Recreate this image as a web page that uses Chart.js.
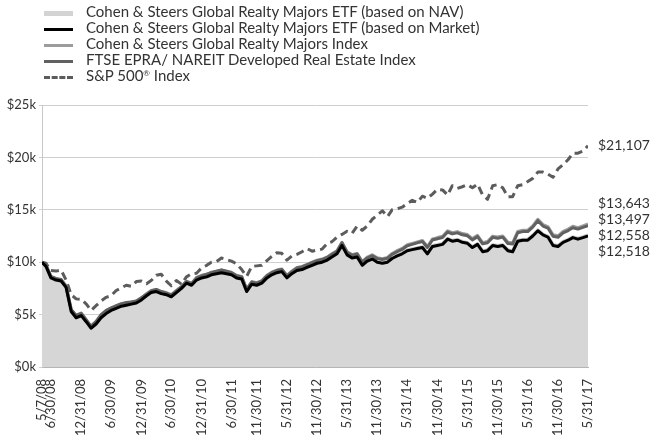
<!DOCTYPE html>
<html>
<head>
<meta charset="utf-8">
<script src="https://cdn.jsdelivr.net/npm/chart.js@4.4.1/dist/chart.umd.min.js"></script>
<style>
  body { margin: 0; background: #fff; }
  #wrap { position: relative; width: 650px; height: 442px; }
  canvas { position: absolute; left: 0; top: 0; }
  .legend { position: absolute; left: 44px; top: 3px; font-family: Lato, sans-serif; font-size: 15px; color: #333; }
  .legend div { height: 16px; line-height: 16px; white-space: nowrap; }
  .legend span { display: inline-block; width: 29px; margin-right: 13px; vertical-align: middle; }
  .legend sup { font-size: 8px; vertical-align: 5px; line-height: 0; }
</style>
</head>
<body>
<div id="wrap">
  <canvas id="myChart" width="650" height="442"></canvas>
  <div class="legend" id="legend"></div>
</div>
<script>
//--------------------- Data ---------------------

const dates = [
  "5/7/08", "5/31/08", "6/30/08", "7/31/08", "8/31/08", "9/30/08", "10/31/08", "11/30/08", "12/31/08",
  "1/31/09", "2/28/09", "3/31/09", "4/30/09", "5/31/09", "6/30/09", "7/31/09", "8/31/09", "9/30/09", "10/31/09", "11/30/09", "12/31/09",
  "1/31/10", "2/28/10", "3/31/10", "4/30/10", "5/31/10", "6/30/10", "7/31/10", "8/31/10", "9/30/10", "10/31/10", "11/30/10", "12/31/10",
  "1/31/11", "2/28/11", "3/31/11", "4/30/11", "5/31/11", "6/30/11", "7/31/11", "8/31/11", "9/30/11", "10/31/11", "11/30/11", "12/31/11",
  "1/31/12", "2/29/12", "3/31/12", "4/30/12", "5/31/12", "6/30/12", "7/31/12", "8/31/12", "9/30/12", "10/31/12", "11/30/12", "12/31/12",
  "1/31/13", "2/28/13", "3/31/13", "4/30/13", "5/31/13", "6/30/13", "7/31/13", "8/31/13", "9/30/13", "10/31/13", "11/30/13", "12/31/13",
  "1/31/14", "2/28/14", "3/31/14", "4/30/14", "5/31/14", "6/30/14", "7/31/14", "8/31/14", "9/30/14", "10/31/14", "11/30/14", "12/31/14",
  "1/31/15", "2/28/15", "3/31/15", "4/30/15", "5/31/15", "6/30/15", "7/31/15", "8/31/15", "9/30/15", "10/31/15", "11/30/15", "12/31/15",
  "1/31/16", "2/29/16", "3/31/16", "4/30/16", "5/31/16", "6/30/16", "7/31/16", "8/31/16", "9/30/16", "10/31/16", "11/30/16", "12/31/16",
  "1/31/17", "2/28/17", "3/31/17", "4/30/17", "5/31/17"
];

const tickLabels = [
  "5/7/08", "6/30/08", "12/31/08", "6/30/09", "12/31/09", "6/30/10", "12/31/10", "6/30/11",
  "11/30/11", "5/31/12", "11/30/12", "5/31/13", "11/30/13", "5/31/14", "11/30/14", "5/31/15",
  "11/30/15", "5/31/16", "11/30/16", "5/31/17"
];

const navValues = [
  10000, 9620, 8520, 8310, 8230, 7620, 5330, 4730, 4920,
  4320, 3720, 4140, 4720, 5130, 5420, 5630, 5830, 5930, 6030, 6130, 6430,
  6830, 7130, 7230, 7030, 6930, 6730, 7130, 7530, 8030, 7830, 8330, 8530,
  8630, 8830, 8930, 9030, 8930, 8830, 8530, 8430, 7230, 7930, 7830, 8030,
  8530, 8830, 9030, 9130, 8530, 8930, 9230, 9330, 9530, 9730, 9930, 10030,
  10230, 10530, 10830, 11630, 10730, 10430, 10530, 9730, 10130, 10330, 10030, 9930,
  10030, 10380, 10630, 10830, 11130, 11230, 11330, 11440, 10840, 11540, 11640, 11740,
  12240, 12040, 12140, 11940, 11840, 11440, 11740, 11040, 11140, 11640, 11540, 11640,
  11140, 11040, 12040, 12140, 12140, 12540, 13040, 12640, 12440, 11640, 11540, 11940,
  12140, 12390, 12240, 12390, 12558
];

const marketValues = [
  10000, 9600, 8500, 8300, 8200, 7600, 5300, 4700, 4900,
  4300, 3700, 4100, 4700, 5100, 5400, 5600, 5800, 5900, 6000, 6100, 6400,
  6800, 7100, 7200, 7000, 6900, 6700, 7100, 7500, 8000, 7800, 8300, 8500,
  8600, 8800, 8900, 9000, 8900, 8800, 8500, 8400, 7200, 7900, 7800, 8000,
  8500, 8800, 9000, 9100, 8500, 8900, 9200, 9300, 9500, 9700, 9900, 10000,
  10200, 10500, 10800, 11600, 10700, 10400, 10500, 9700, 10100, 10300, 10000, 9900,
  10000, 10350, 10600, 10800, 11100, 11200, 11300, 11400, 10800, 11500, 11600, 11700,
  12200, 12000, 12100, 11900, 11800, 11400, 11700, 11000, 11100, 11600, 11500, 11600,
  11100, 11000, 12000, 12100, 12100, 12500, 13000, 12600, 12400, 11600, 11500, 11900,
  12100, 12350, 12200, 12350, 12518
];

const indexValues = [
  10000, 9700, 8600, 8400, 8300, 7750, 5450, 4850, 5050,
  4450, 3850, 4300, 4900, 5300, 5600, 5800, 6000, 6100, 6200, 6300, 6600,
  7000, 7300, 7400, 7200, 7100, 6900, 7300, 7700, 8200, 8000, 8550, 8750,
  8850, 9050, 9150, 9250, 9150, 9050, 8750, 8650, 7450, 8150, 8050, 8250,
  8750, 9050, 9250, 9350, 8750, 9150, 9500, 9600, 9800, 10000, 10200, 10300,
  10500, 10800, 11100, 11900, 11000, 10720, 10840, 10060, 10480, 10700, 10420, 10340,
  10460, 10830, 11100, 11320, 11660, 11800, 11940, 12080, 11500, 12220, 12350, 12470,
  13000, 12810, 12920, 12730, 12640, 12250, 12560, 11870, 11980, 12490, 12400, 12510,
  11900, 11850, 12940, 13050, 13060, 13470, 14100, 13590, 13400, 12610, 12520, 12940,
  13160, 13430, 13300, 13460, 13643
];

const ftseValues = [
  10000, 9750, 8650, 8450, 8350, 7700, 5500, 4950, 5150,
  4500, 3900, 4350, 5000, 5400, 5650, 5850, 6050, 6150, 6200, 6300, 6600,
  6950, 7250, 7400, 7200, 7050, 6850, 7250, 7650, 8150, 7950, 8500, 8700,
  8850, 9000, 9150, 9250, 9150, 9000, 8700, 8600, 7400, 8100, 8000, 8200,
  8700, 9000, 9200, 9300, 8700, 9100, 9450, 9550, 9750, 9950, 10150, 10250,
  10450, 10750, 11050, 11850, 10950, 10650, 10780, 10000, 10400, 10620, 10340, 10260,
  10380, 10740, 11000, 11220, 11560, 11700, 11840, 11980, 11400, 12120, 12240, 12360,
  12880, 12700, 12800, 12610, 12520, 12130, 12440, 11750, 11860, 12370, 12280, 12390,
  11780, 11730, 12810, 12920, 12930, 13340, 13960, 13450, 13260, 12470, 12380, 12800,
  13020, 13290, 13160, 13320, 13497
];

const spValues = [
  10000, 9900, 9200, 9150, 9250, 8300, 6900, 6500, 6450,
  6000, 5400, 5850, 6300, 6650, 6800, 7300, 7550, 7800, 7700, 8150, 8200,
  7950, 8250, 8750, 8850, 8200, 7750, 8250, 7900, 8600, 8900, 8950, 9450,
  9700, 10000, 10050, 10400, 10250, 10100, 9850, 9300, 8650, 9600, 9650, 9700,
  10150, 10550, 10900, 10850, 10200, 10600, 10750, 11000, 11300, 11050, 11150, 11250,
  11800, 11950, 12400, 12650, 12950, 12750, 13450, 13050, 13450, 14100, 14500, 14900,
  14350, 15000, 15100, 15250, 15600, 15900, 15700, 16300, 16100, 16500, 16950, 16900,
  16400, 17300, 17050, 17200, 17400, 17100, 17450, 16400, 16000, 17300, 17400, 17100,
  16250, 16250, 17300, 17400, 17700, 18000, 18600, 18600, 18400, 18100, 18900, 19300,
  19800, 20400, 20400, 20600, 21107
];

const seriesNames = [
  "Cohen & Steers Global Realty Majors ETF (based on NAV)",
  "Cohen & Steers Global Realty Majors ETF (based on Market)",
  "Cohen & Steers Global Realty Majors Index",
  "FTSE EPRA/ NAREIT Developed Real Estate Index",
  "S&P 500\u00AE Index"
];

//--------------------- Chart ---------------------

const dayNum = (s) => {
  const [m, d, y] = s.split("/").map(Number);
  return Date.UTC(2000 + y, m - 1, d) / 86400000;
};
const startDay = dayNum(dates[0]);
const xs = dates.map((d) => dayNum(d) - startDay);
const tickMap = {};
tickLabels.forEach((t) => (tickMap[dayNum(t) - startDay] = t));

const toPoints = (arr) => arr.map((v, i) => ({ x: xs[i], y: v }));
const money = (v) => "$" + Math.round(v).toLocaleString("en-US");

const font = "Lato, sans-serif";

// labels at the right end of the lines
const endLabels = {
  id: "endLabels",
  afterDraw(chart) {
    const { ctx, chartArea, scales } = chart;
    const y = scales.y;
    const x0 = chartArea.right + 10;
    ctx.save();
    ctx.font = "14px " + font;
    ctx.fillStyle = "#333";
    ctx.textBaseline = "middle";
    ctx.fillText(money(spValues[spValues.length - 1]), x0, y.getPixelForValue(spValues[spValues.length - 1]));
    const group = [indexValues, ftseValues, navValues, marketValues].map((a) => a[a.length - 1]);
    const mid = group.reduce((s, v) => s + y.getPixelForValue(v), 0) / group.length - 3;
    group.forEach((v, i) => {
      ctx.fillText(money(v), x0, mid + (i - 1.5) * 16);
    });
    ctx.restore();
  },
};

const ctx = document.getElementById("myChart").getContext("2d");

const config = {
  type: "line",
  data: {
    datasets: [
      { label: seriesNames[0], data: toPoints(navValues), borderColor: "#cfcfcf", borderWidth: 4, fill: "origin", backgroundColor: "#d6d6d6", order: 5 },
      { label: seriesNames[1], data: toPoints(marketValues), borderColor: "#000000", borderWidth: 3, order: 1 },
      { label: seriesNames[2], data: toPoints(indexValues), borderColor: "#9c9c9c", borderWidth: 3, order: 3 },
      { label: seriesNames[3], data: toPoints(ftseValues), borderColor: "#616161", borderWidth: 3, order: 2 },
      { label: seriesNames[4], data: toPoints(spValues), borderColor: "#5c5c5c", borderWidth: 3, borderDash: [8, 5], order: 4 },
    ],
  },
  options: {
    responsive: false,
    animation: false,
    events: [],
    elements: { point: { radius: 0 }, line: { tension: 0, borderJoinStyle: "round" } },
    layout: { padding: { left: 0, right: 62, top: 105, bottom: 0 } },
    plugins: { legend: { display: false }, tooltip: { enabled: false } },
    scales: {
      x: {
        type: "linear",
        min: 0,
        max: xs[xs.length - 1],
        afterBuildTicks: (scale) => {
          scale.ticks = Object.keys(tickMap).map((v) => ({ value: Number(v) }));
        },
        afterFit: (scale) => {
          scale.height = 75;
        },
        grid: { display: false },
        border: { display: true, color: "#b5b5b5" },
        ticks: {
          autoSkip: false,
          minRotation: 90,
          maxRotation: 90,
          padding: 4,
          color: "#333",
          font: { family: font, size: 13 },
          callback: (v) => tickMap[v] || "",
        },
      },
      y: {
        min: 0,
        max: 25000,
        afterFit: (scale) => {
          scale.width = 42;
        },
        grid: { color: "#cfcfcf", tickLength: 3 },
        border: { color: "#c8c8c8" },
        ticks: {
          stepSize: 5000,
          padding: 3,
          color: "#333",
          font: { family: font, size: 13 },
          callback: (v) => "$" + v / 1000 + "k",
        },
      },
    },
  },
  plugins: [endLabels],
};

new Chart(ctx, config);

// legend
const legendStyles = [
  "border-top: 5px solid #d3d3d3",
  "border-top: 3px solid #000",
  "border-top: 3px solid #9c9c9c",
  "border-top: 3px solid #616161",
  "border-top: 3px dashed #5c5c5c",
];
document.getElementById("legend").innerHTML = seriesNames
  .map((name, i) => {
    const text = name.replace(/&/g, "&amp;").replace("\u00AE", "<sup>\u00AE</sup>");
    return `<div><span style="${legendStyles[i]}"></span>${text}</div>`;
  })
  .join("");
</script>
</body>
</html>
